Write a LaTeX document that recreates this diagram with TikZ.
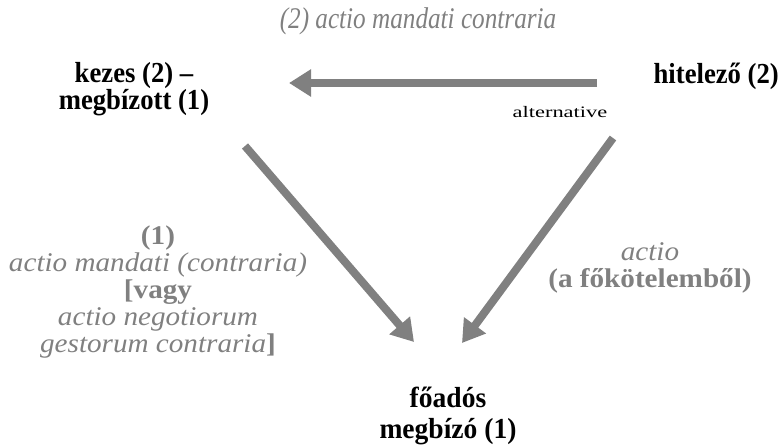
\documentclass[tikz,border=0pt]{standalone}
\usepackage{fontspec}
\usepackage{graphicx}
\setmainfont{Liberation Serif}
\usetikzlibrary{arrows.meta}
\definecolor{lgray}{HTML}{808080}
\newcommand{\sx}[2]{\scalebox{#1}[1]{#2}}
\tikzset{
  party/.style={font=\bfseries\fontsize{29}{27}\selectfont, text=black, align=center, inner sep=0pt},
  glabel/.style={font=\fontsize{27}{27}\selectfont, text=lgray, align=center, inner sep=0pt},
  bigarrow/.style={draw=lgray, line width=8pt, -{Triangle[length=22pt,width=26pt]}}
}
\begin{document}
\begin{tikzpicture}[x=1pt,y=-1pt]
\useasboundingbox (0,0) rectangle (782,447);
\node[glabel, font=\itshape\fontsize{30}{30}\selectfont] (title) at (418,21) {\sx{0.84}{(2) actio mandati contraria}};
\node[party] (kezes) at (134,89) {\sx{0.92}{kezes (2) --}\\\sx{0.92}{megbízott (1)}};
\node[party, anchor=east] (hitelezo) at (779,76) {\sx{0.92}{hitelező (2)}};
\node[font=\fontsize{16}{16}\selectfont, inner sep=0pt] (alt) at (560,112) {\sx{1.4}{alternative}};
\node[glabel] (left) at (158,292) {\sx{1.08}{\textbf{(1)}}\\\sx{1.08}{\textit{actio mandati (contraria)}}\\\sx{1.08}{\textbf{[vagy}}\\\sx{1.08}{\textit{actio negotiorum}}\\\sx{1.08}{\textit{gestorum contraria}\textbf{]}}};
\node[glabel] (right) at (650,268) {\sx{1.08}{\textit{actio}}\\\sx{1.08}{\textbf{(a főkötelemből)}}};
\node[party, font=\bfseries\fontsize{29}{31}\selectfont] (foados) at (448,416) {\sx{0.95}{főadós}\\\sx{0.95}{megbízó (1)}};
\coordinate (h1) at (597,83);
\coordinate (h2) at (289,83);
\coordinate (l1) at (245,146);
\coordinate (l2) at (414,342);
\coordinate (r1) at (613,138);
\coordinate (r2) at (462,343);
\draw[bigarrow] (h1) -- (h2);
\draw[bigarrow] (l1) -- (l2);
\draw[bigarrow] (r1) -- (r2);
\end{tikzpicture}
\end{document}
